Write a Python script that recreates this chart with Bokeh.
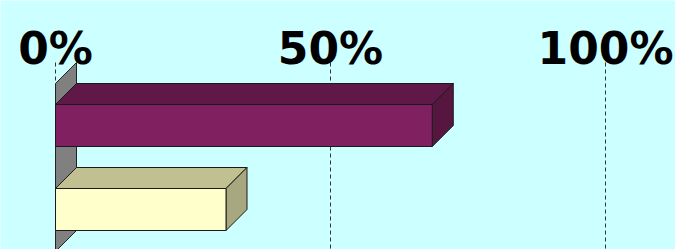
from bokeh.plotting import figure
from bokeh.models import Range1d
from bokeh.core.properties import value
from bokeh.embed import file_html
from bokeh.resources import INLINE

# ---- data ----
categories = ["Series A", "Series B"]
values = [68.5, 31.0]
front_colors = ["#802060", "#FFFFCC"]
top_colors = ["#601848", "#C0C090"]
side_colors = ["#561640", "#A8A880"]
tick_values = [0, 50, 100]
tick_labels = ["0%", "50%", "100%"]

# ---- layout constants (pixels) ----
W, H = 675, 249
PX_PER_PCT = 5.5
X0_PX = 55          # pixel position of 0%
CAT_PX = 84         # pixels per category
CAT0_PX = 125       # pixel centre of first category
DEPTH_PX = 21
HALF = 0.25         # half bar thickness in category units
LABEL_BASE_PX = 48

dx = DEPTH_PX / PX_PER_PCT
dy = DEPTH_PX / CAT_PX
n = len(categories)
pos = list(range(n))

BG = "#CCFFFF"
p = figure(width=W, height=H, output_backend="svg", toolbar_location=None,
           x_range=Range1d(-X0_PX / PX_PER_PCT, (W - X0_PX) / PX_PER_PCT),
           y_range=Range1d((H - CAT0_PX) / CAT_PX, -CAT0_PX / CAT_PX),
           min_border=0, min_border_left=0, min_border_right=0,
           min_border_top=0, min_border_bottom=0)
p.axis.visible = False
p.grid.visible = False
p.outline_line_color = None
p.background_fill_color = BG
p.border_fill_color = BG

# gridlines (dashed) from back top to the bottom
top_back = -0.5 - dy
bottom = n + 0.5
p.segment(x0=tick_values, y0=[top_back] * len(tick_values),
          x1=tick_values, y1=[bottom] * len(tick_values),
          line_color="#333333", line_width=1, line_dash="4 3")

# side wall
p.patch(x=[0, dx, dx, 0], y=[-0.5, -0.5 - dy, n - 0.5 - dy, n - 0.5],
        fill_color="#808080", line_color="#222222", line_width=1)

# bars
top_xs, top_ys, side_xs, side_ys = [], [], [], []
for v, c in zip(values, pos):
    yt, yb = c - HALF, c + HALF
    top_xs.append([0, v, v + dx, dx])
    top_ys.append([yt, yt, yt - dy, yt - dy])
    side_xs.append([v, v + dx, v + dx, v])
    side_ys.append([yt, yt - dy, yb - dy, yb])

p.patches(xs=top_xs, ys=top_ys, fill_color=top_colors, line_color="#1a1a1a", line_width=1)
p.patches(xs=side_xs, ys=side_ys, fill_color=side_colors, line_color="#1a1a1a", line_width=1)
p.quad(left=[0] * n, right=values,
       top=[c - HALF for c in pos], bottom=[c + HALF for c in pos],
       fill_color=front_colors, line_color="#1a1a1a", line_width=1)

# value labels on top
label_y = (LABEL_BASE_PX - CAT0_PX) / CAT_PX
p.text(x=tick_values, y=[label_y] * len(tick_values), text=tick_labels,
       text_font=value("DejaVu Sans"), text_font_style="bold",
       text_font_size="44px", text_align="center", text_baseline="alphabetic",
       text_color="#000000")

open("out.html", "w").write(file_html(p, INLINE))
